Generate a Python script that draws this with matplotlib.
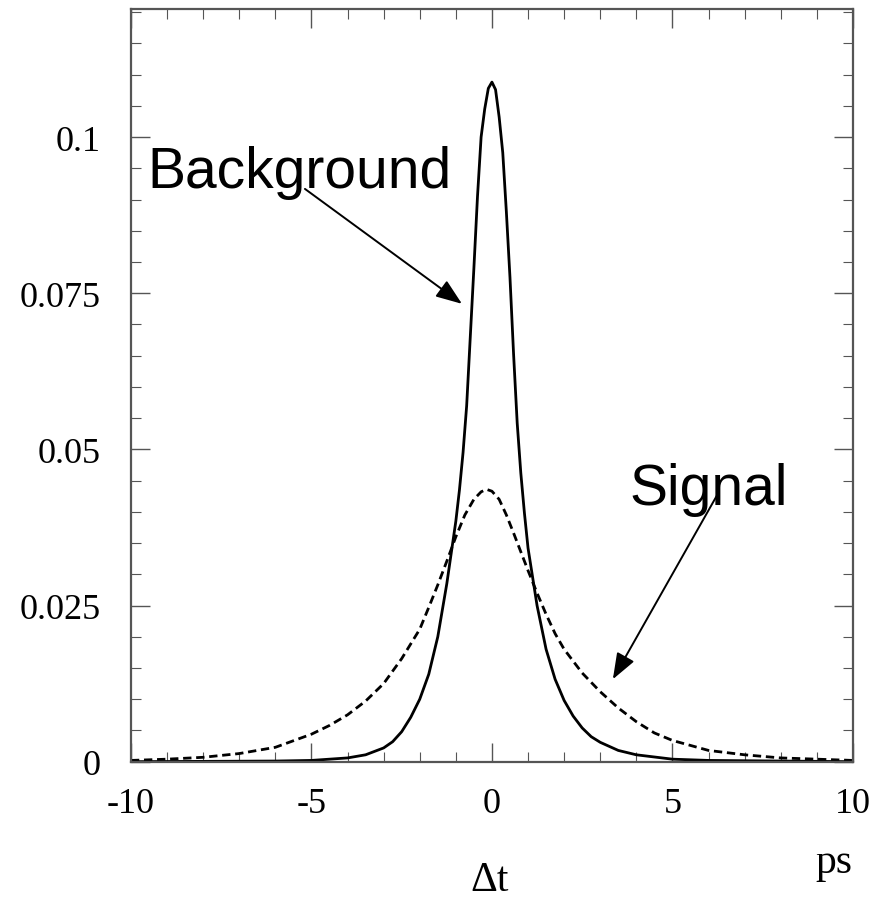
import matplotlib
matplotlib.use("Agg")
import matplotlib.pyplot as plt
from matplotlib.ticker import MultipleLocator

# Delta t (ps) and pdf values for the background shape (solid)
bkg_t = [-10, -6, -5, -4, -3.5, -3, -2.75, -2.5, -2.25, -2, -1.75, -1.5, -1.25, -1,
         -0.9, -0.8, -0.7, -0.6, -0.5, -0.4, -0.3, -0.2, -0.1, 0, 0.1, 0.2, 0.3, 0.4,
         0.5, 0.6, 0.7, 0.8, 0.9, 1, 1.25, 1.5, 1.75, 2, 2.25, 2.5, 2.75, 3, 3.5, 4,
         5, 6, 10]
bkg_pdf = [0.0, 0.0001, 0.0002, 0.0006, 0.0011, 0.0022, 0.0032, 0.0048, 0.0071, 0.0100,
           0.0140, 0.0200, 0.0285, 0.0385, 0.0435, 0.0495, 0.0570, 0.0680, 0.0790,
           0.0905, 0.1000, 0.1045, 0.1078, 0.1088, 0.1076, 0.1032, 0.0975, 0.0880,
           0.0775, 0.0652, 0.0542, 0.0462, 0.0398, 0.0342, 0.0250, 0.0180, 0.0132,
           0.0098, 0.0073, 0.0054, 0.0040, 0.0031, 0.0018, 0.0011, 0.0004, 0.0002, 0.0]

# Delta t (ps) and pdf values for the signal shape (dashed)
sig_t = [-10, -9, -8, -7, -6, -5, -4.5, -4, -3.5, -3, -2.5, -2, -1.75, -1.5, -1.25,
         -1, -0.75, -0.5, -0.3, -0.15, 0, 0.2, 0.4, 0.6, 0.8, 1, 1.25, 1.5, 1.75, 2,
         2.5, 3, 3.5, 4, 4.5, 5, 6, 7, 8, 9, 10]
sig_pdf = [0.0002, 0.0004, 0.0007, 0.0013, 0.0023, 0.0044, 0.0058, 0.0075, 0.0097,
           0.0125, 0.0165, 0.0212, 0.0247, 0.0283, 0.0321, 0.0360, 0.0395, 0.0420,
           0.0432, 0.0436, 0.0433, 0.0420, 0.0395, 0.0366, 0.0336, 0.0306, 0.0270,
           0.0236, 0.0205, 0.0180, 0.0142, 0.0112, 0.0086, 0.0064, 0.0046, 0.0034,
           0.0018, 0.0011, 0.0006, 0.0004, 0.0002]

xticks = [-10, -5, 0, 5, 10]
xticklabels = ["-10", "-5", "0", "5", "10"]
yticks = [0, 0.025, 0.05, 0.075, 0.1]
yticklabels = ["0", "0.025", "0.05", "0.075", "0.1"]

serif = "Liberation Serif"
sans = "Liberation Sans"

fig = plt.figure(figsize=(8.73, 9.03), dpi=100)
ax = fig.add_axes([0.150, 0.1554, 0.827, 0.8335])

ax.plot(bkg_t, bkg_pdf, color="black", lw=2.0, solid_joinstyle="round")
ax.plot(sig_t, sig_pdf, color="black", lw=2.0, dashes=(3.0, 1.7))

ax.set_xlim(-10, 10)
ax.set_ylim(0, 0.1205)

ax.set_xticks(xticks)
ax.set_xticklabels(xticklabels, fontfamily=serif, fontsize=26)
ax.set_yticks(yticks)
ax.set_yticklabels(yticklabels, fontfamily=serif, fontsize=26)
ax.xaxis.set_minor_locator(MultipleLocator(1))
ax.yaxis.set_minor_locator(MultipleLocator(0.005))
ax.tick_params(which="both", direction="in", top=True, right=True, color="#555555")
ax.tick_params(which="major", length=14, width=1.0)
ax.tick_params(which="minor", length=7, width=0.8)
ax.tick_params(axis="x", which="major", pad=18)
ax.tick_params(axis="y", which="major", pad=22)
for s in ax.spines.values():
    s.set_color("#555555")
    s.set_linewidth(1.6)

# axis titles
fig.text(0.561, 0.013, "\u0394t", fontfamily=serif, fontsize=30, ha="center", va="baseline")
fig.text(0.955, 0.033, "ps", fontfamily=serif, fontsize=30, ha="center", va="baseline")

# curve labels with arrows
arrow = dict(arrowstyle="-|>,head_length=1.6,head_width=0.6", color="black", lw=1.4,
             shrinkA=0, shrinkB=0)
ax.text(-9.55, 0.092, "Background", fontfamily=sans, fontsize=41, va="baseline")
ax.annotate("", xy=(-0.83, 0.0733), xytext=(-5.18, 0.0917), arrowprops=arrow)
ax.text(3.8, 0.0412, "Signal", fontfamily=sans, fontsize=41, va="baseline")
ax.annotate("", xy=(3.35, 0.0132), xytext=(6.26, 0.0429), arrowprops=arrow)

fig.savefig("out.png", dpi=100)
